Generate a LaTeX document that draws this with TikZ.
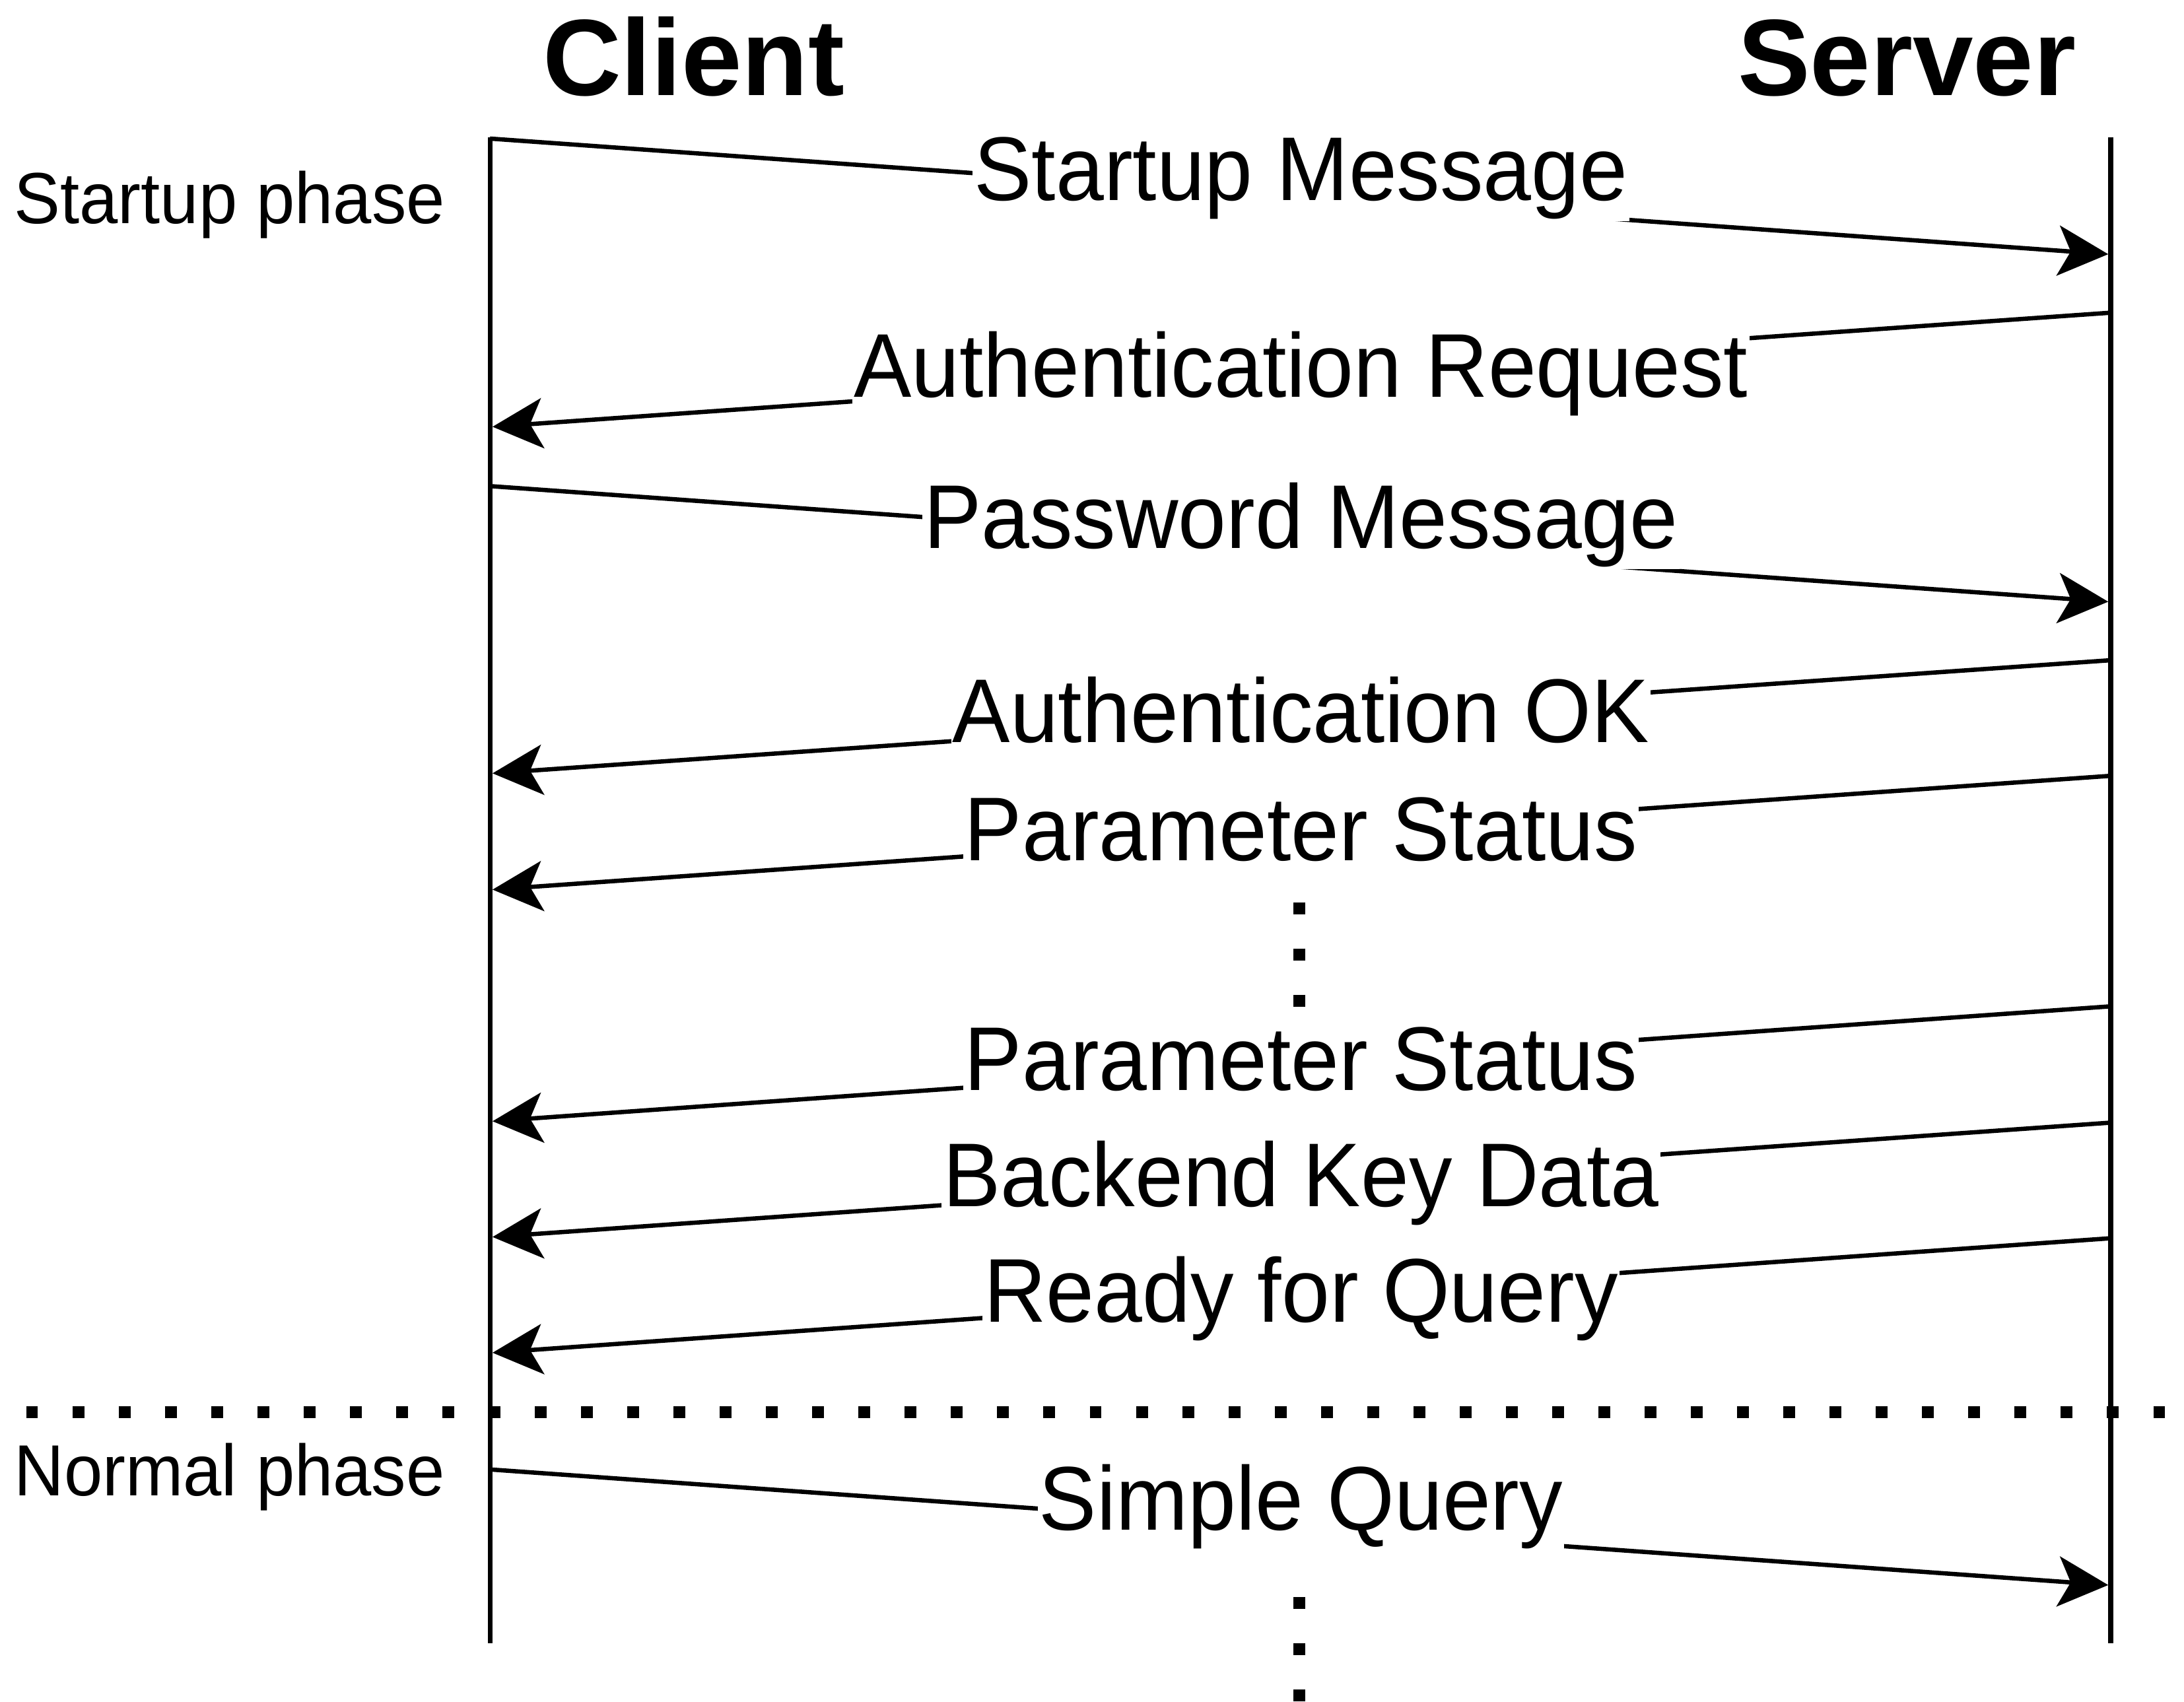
\documentclass[tikz,border=0pt]{standalone}
\usepackage{fontspec}
\setmainfont{Liberation Sans}
\newfontfamily\msgfont{Liberation Sans}[FakeStretch=0.955]
\usetikzlibrary{arrows.meta}

\tikzset{
  lifeline/.style={line width=3.4pt},
  msg/.style={line width=3.1pt, -{Stealth[length=36pt,width=36pt,inset=9pt]}},
  msglabel/.style={fill=white, inner xsep=1pt, inner ysep=0pt,
    text height=47pt, text depth=15pt, anchor=base,
    font=\msgfont\fontsize{65}{70}\selectfont},
  phase/.style={anchor=base west, inner sep=0pt,
    font=\msgfont\fontsize{52}{60}\selectfont},
  actor/.style={anchor=base, inner sep=0pt,
    font=\bfseries\fontsize{78}{90}\selectfont},
  dots/.style={line width=8.5pt, dash pattern=on 8.5pt off 24.7pt},
}

\begin{document}
\begin{tikzpicture}[x=1pt,y=-1pt]
  % page
  \fill[white] (0,0) rectangle (1568,1221.5);
  \useasboundingbox (0,0) rectangle (1568,1221.5);

  % actors
  \node[actor] (client) at (498,68.7) {Client};
  \node[actor] (server) at (1369,68.7) {Server};

  % lifelines
  \coordinate (ctop) at (351.8,98.5);
  \coordinate (cbot) at (351.8,1180);
  \coordinate (stop) at (1515.4,98.5);
  \coordinate (sbot) at (1515.4,1180);
  \draw[lifeline] (ctop) -- (cbot);
  \draw[lifeline] (stop) -- (sbot);

  % phase names
  \node[phase] (startup) at (10,160.4) {Startup phase};
  \node[phase] (normal) at (10,1074) {Normal phase};

  % phase separator
  \coordinate (sepL) at (18.75,1014);
  \coordinate (sepR) at (1568,1014);
  \draw[dots] (sepL) -- (sepR);

  % message end points (client side c*, server side s*)
  \coordinate (c1) at (351.8,99.5);   \coordinate (s1) at (1513.6,182.5);
  \coordinate (s2) at (1515.4,224.5); \coordinate (c2) at (353.6,306.4);
  \coordinate (c3) at (351.8,349);    \coordinate (s3) at (1513.6,432);
  \coordinate (s4) at (1515.4,474);   \coordinate (c4) at (353.6,555.2);
  \coordinate (s5) at (1515.4,557);   \coordinate (c5) at (353.6,638.7);
  \coordinate (s6) at (1515.4,722.5); \coordinate (c6) at (353.6,805);
  \coordinate (s7) at (1515.4,806);   \coordinate (c7) at (353.6,888.1);
  \coordinate (s8) at (1515.4,889);   \coordinate (c8) at (353.6,971.2);
  \coordinate (c9) at (351.8,1055);   \coordinate (s9) at (1513.6,1138);

  % messages
  \draw[msg] (c1) -- (s1);
  \draw[msg] (s2) -- (c2);
  \draw[msg] (c3) -- (s3);
  \draw[msg] (s4) -- (c4);
  \draw[msg] (s5) -- (c5);
  \draw[msg] (s6) -- (c6);
  \draw[msg] (s7) -- (c7);
  \draw[msg] (s8) -- (c8);
  \draw[msg] (c9) -- (s9);

  % message labels
  \node[msglabel] (m1) at (934,144)   {Startup Message};
  \node[msglabel] (m2) at (934,285)   {Authentication Request};
  \node[msglabel] (m3) at (934,393.5) {Password Message};
  \node[msglabel] (m4) at (934,533)   {Authentication OK};
  \node[msglabel] (m5) at (934,618)   {Parameter Status};
  \node[msglabel] (m6) at (934,783)   {Parameter Status};
  \node[msglabel] (m7) at (934,866)   {Backend Key Data};
  \node[msglabel] (m8) at (934,949)   {Ready for Query};
  \node[msglabel] (m9) at (934,1098.5) {Simple Query};

  % elided messages
  \coordinate (gapA) at (933,647.75);
  \coordinate (gapB) at (933,723);
  \draw[dots] (gapA) -- (gapB);
  \coordinate (moreA) at (933,1146.75);
  \coordinate (moreB) at (933,1221.5);
  \draw[dots] (moreA) -- (moreB);
\end{tikzpicture}
\end{document}
